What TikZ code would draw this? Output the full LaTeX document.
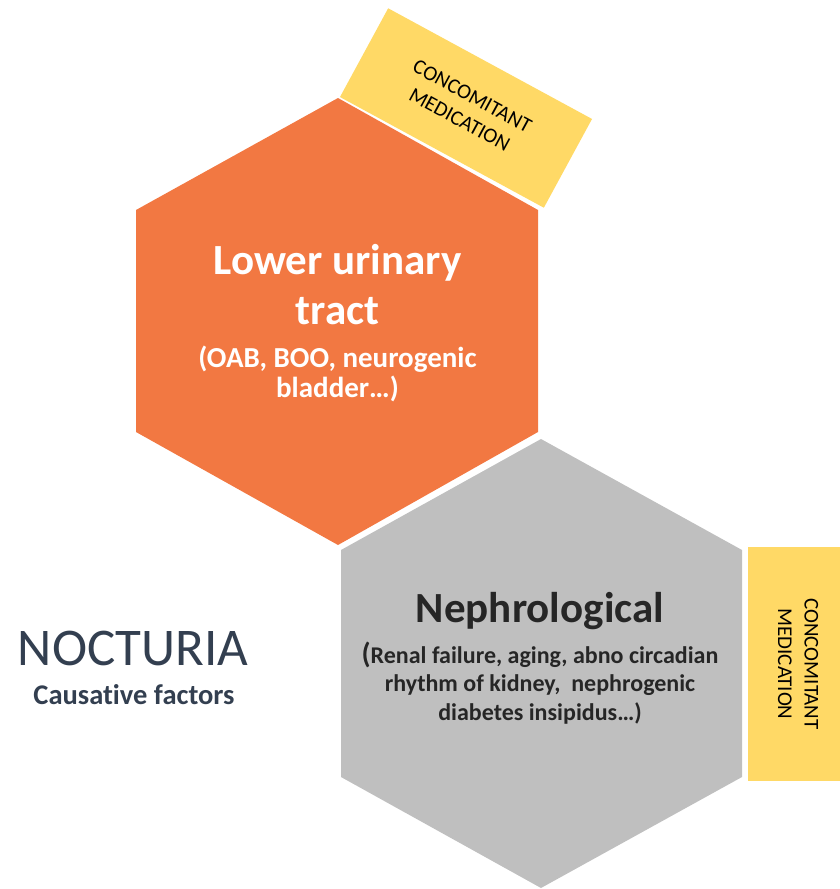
\documentclass[tikz,border=0pt]{standalone}
\usepackage{fontspec}
\setmainfont{Carlito}[Ligatures=NoCommon]
\definecolor{hexorange}{HTML}{F27842}
\definecolor{hexgray}{HTML}{BFBFBF}
\definecolor{medyellow}{HTML}{FFD966}
\definecolor{darktext}{HTML}{262626}
\definecolor{titleblue}{HTML}{333F50}
\begin{document}
\begin{tikzpicture}[x=1pt,y=-1pt,
  medbox/.style={fill=medyellow, inner sep=0pt, align=center, text=black,
    font=\fontsize{21}{26.5}\selectfont},
  medtext/.style={inner sep=0pt, align=center, text=black,
    font=\fontsize{21}{26.5}\selectfont},
  line/.style={inner sep=0pt, anchor=base},
  whitebig/.style={line, text=white, font=\bfseries\fontsize{43}{50}\selectfont},
  whitesmall/.style={line, text=white, font=\bfseries\fontsize{29}{34}\selectfont},
  darkbig/.style={line, text=darktext, font=\bfseries\fontsize{43}{50}\selectfont},
  darksmall/.style={line, text=darktext, font=\bfseries\fontsize{24}{29}\selectfont}]
\useasboundingbox (0,0) rectangle (840,889);
% hexagons
\fill[hexorange] (338,98) -- (538,210) -- (538,432) -- (338,545) -- (136,432) -- (136,210) -- cycle;
\fill[hexgray] (541,439) -- (742,550) -- (742,777) -- (541,888) -- (341,777) -- (341,550) -- cycle;
% medication boxes
\node[medbox, rotate=-28.5, minimum width=232, minimum height=101] (medtop) at (466,108)
  {CONCOMITANT\\MEDICATION};
\node[fill=medyellow, inner sep=0pt, minimum width=92, minimum height=234] (medright) at (794,664) {};
\node[medtext, rotate=-90] (medrighttext) at (798,664) {CONCOMITANT\\MEDICATION};
% lower urinary tract text
\node[whitebig] (lut1) at (337.5,274) {Lower urinary};
\node[whitebig] (lut2) at (337.5,324) {tract};
\node[whitesmall] (lut3) at (337.5,367) {(OAB, BOO, neurogenic};
\node[whitesmall] (lut4) at (337.5,397) {bladder…)};
% nephrological text
\node[darkbig] (neph1) at (540,622) {Nephrological};
\node[darksmall] (neph2) at (540,663) {{\fontsize{29}{29}\selectfont(}Renal failure, aging, abno circadian};
\node[darksmall] (neph3) at (540,691.5) {rhythm of kidney,\ \ nephrogenic};
\node[darksmall] (neph4) at (540,720) {diabetes insipidus…)};
% title
\node[line, text=titleblue, font=\fontsize{53}{60}\selectfont] (title) at (133,665) {NOCTURIA};
\node[line, text=titleblue, font=\bfseries\fontsize{28.5}{34}\selectfont] (subtitle) at (134,704) {Causative factors};
\end{tikzpicture}
\end{document}
